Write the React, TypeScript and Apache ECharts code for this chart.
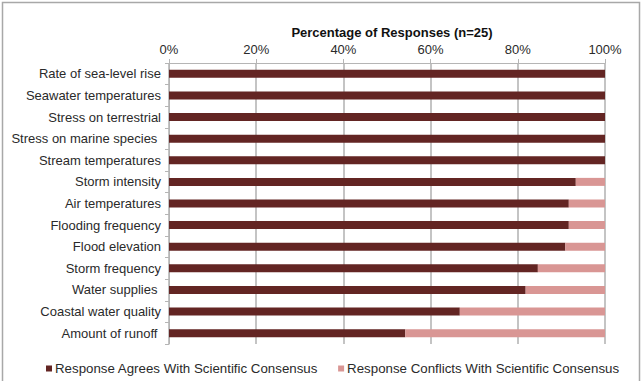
import React, { useEffect, useRef } from "react";
import * as echarts from "echarts";

const categories = [
  "Rate of sea-level rise",
  "Seawater temperatures",
  "Stress on terrestrial",
  "Stress on marine species ",
  "Stream temperatures",
  "Storm intensity",
  "Air temperatures",
  "Flooding frequency",
  "Flood elevation",
  "Storm frequency",
  "Water supplies ",
  "Coastal water quality",
  "Amount of runoff ",
];
const agrees = [100, 100, 100, 100, 100, 93.3, 91.7, 91.7, 90.9, 84.6, 81.8, 66.7, 54.2];
const conflicts = [0, 0, 0, 0, 0, 6.7, 8.3, 8.3, 9.1, 15.4, 18.2, 33.3, 45.8];
const seriesNames = [
  "Response Agrees With Scientific Consensus",
  "Response Conflicts With Scientific Consensus",
];
const chartTitle = "Percentage of Responses (n=25)";

const FONT = "'Liberation Sans', Arial, Helvetica, sans-serif";

export default function App() {
  const ref = useRef<HTMLDivElement>(null);
  useEffect(() => {
    if (!ref.current) return;
    const chart = echarts.init(ref.current, undefined, { renderer: "svg" });
    chart.setOption({
      animation: false,
      backgroundColor: "#ffffff",
      textStyle: { fontFamily: FONT },
      title: {
        text: chartTitle,
        left: 387,
        textAlign: "center",
        top: 21,
        textStyle: { fontSize: 13, fontWeight: "bold", color: "#111", fontFamily: FONT },
      },
      graphic: [
        {
          type: "rect",
          shape: { x: 2.5, y: 2.5, width: 637, height: 420 },
          style: { fill: "none", stroke: "#a8a8a8", lineWidth: 1.5 },
          silent: true,
        },
      ],
      legend: {
        left: 41,
        top: 357,
        itemWidth: 6,
        itemHeight: 6,
        itemGap: 20,
        icon: "rect",
        textStyle: { fontSize: 13.3, color: "#2a2a2a", fontFamily: FONT, padding: [0, 0, 0, -2] },
        data: seriesNames,
      },
      grid: { left: 169, right: 37, top: 63, bottom: 37, containLabel: false },
      xAxis: {
        type: "value",
        position: "top",
        min: 0,
        max: 100,
        interval: 20,
        axisLine: { show: true, lineStyle: { color: "#b5b5b5", width: 1 } },
        axisTick: { show: true, length: 4, lineStyle: { color: "#b5b5b5" } },
        axisLabel: {
          formatter: "{value}%",
          fontSize: 13,
          color: "#2a2a2a",
          margin: 7,
          fontFamily: FONT,
        },
        splitLine: { show: true, lineStyle: { color: "#b0b0b0", width: 1.5 } },
      },
      yAxis: {
        type: "category",
        inverse: true,
        data: categories,
        axisLine: { show: true, lineStyle: { color: "#b5b5b5", width: 1 } },
        axisTick: { show: true, length: 4, alignWithLabel: false, lineStyle: { color: "#b5b5b5" } },
        axisLabel: { fontSize: 13, color: "#2a2a2a", margin: 8, fontFamily: FONT },
      },
      series: [
        {
          name: seriesNames[0],
          type: "bar",
          stack: "total",
          data: agrees,
          barWidth: 8,
          itemStyle: { color: "#632523" },
        },
        {
          name: seriesNames[1],
          type: "bar",
          stack: "total",
          data: conflicts,
          barWidth: 8,
          itemStyle: { color: "#d99694" },
        },
      ],
    });
    return () => chart.dispose();
  }, []);
  return (
    <div
      ref={ref}
      style={{ position: "fixed", left: 0, top: 0, width: 642, height: 381 }}
    />
  );
}
